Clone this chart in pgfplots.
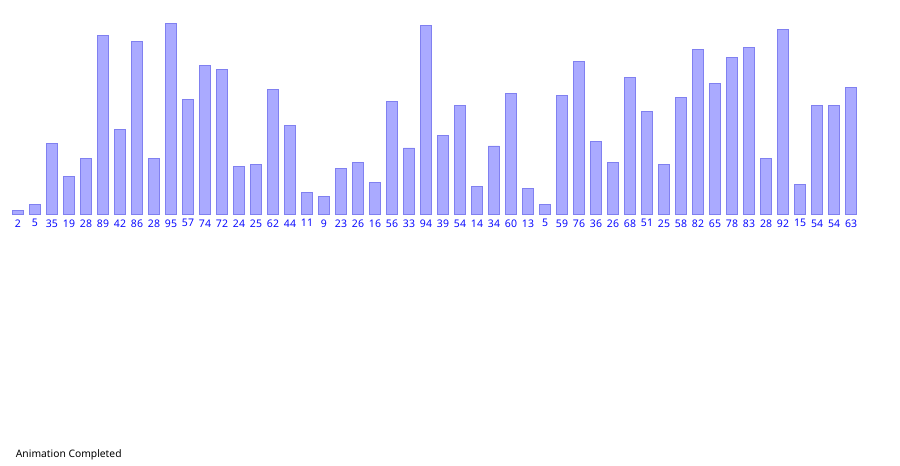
\documentclass[border=0pt]{standalone}
\usepackage{pgfplots}
\pgfplotsset{compat=1.18}
\usepackage{fontspec}
\setmainfont{Noto Sans}
\definecolor{barfill}{RGB}{170,170,255}
\definecolor{barline}{RGB}{128,128,240}
\definecolor{lab}{RGB}{10,10,255}
\begin{document}
\begin{tikzpicture}[x=1pt,y=1pt]
\begin{axis}[
  at={(1pt,251.7pt)}, anchor=south west,
  scale only axis, width=867pt, height=201pt,
  xmin=-1, xmax=50, ymin=0, ymax=100,
  axis line style={draw=none},
  tick style={draw=none},
  major tick length=0pt,
  ytick=\empty,
  xtick={0,...,49},
  xticklabels={2,5,35,19,28,89,42,86,28,95,57,74,72,24,25,62,44,11,9,23,26,16,56,33,94,39,54,14,34,60,13,5,59,76,36,26,68,51,25,58,82,65,78,83,28,92,15,54,54,63},
  xticklabel style={font=\fontsize{10.5}{12}\selectfont, text=lab, anchor=north, inner sep=0pt, yshift=-5pt},
  clip=false,
]
\addplot[ybar, bar width=11.3pt, fill=barfill, draw=barline, line width=0.9pt] coordinates {
(0,2) (1,5) (2,35) (3,19) (4,28) (5,89) (6,42) (7,86) (8,28) (9,95)
(10,57) (11,74) (12,72) (13,24) (14,25) (15,62) (16,44) (17,11) (18,9) (19,23)
(20,26) (21,16) (22,56) (23,33) (24,94) (25,39) (26,54) (27,14) (28,34) (29,60)
(30,13) (31,5) (32,59) (33,76) (34,36) (35,26) (36,68) (37,51) (38,25) (39,58)
(40,82) (41,65) (42,78) (43,83) (44,28) (45,92) (46,15) (47,54) (48,54) (49,63)
};
\end{axis}
\node[anchor=base west, inner sep=0pt, font=\fontsize{10.3}{12}\selectfont] at (15.7pt,8.5pt) {Animation Completed};
\pgfresetboundingbox
\useasboundingbox (0,0) rectangle (900pt,466pt);
\end{tikzpicture}
\end{document}
